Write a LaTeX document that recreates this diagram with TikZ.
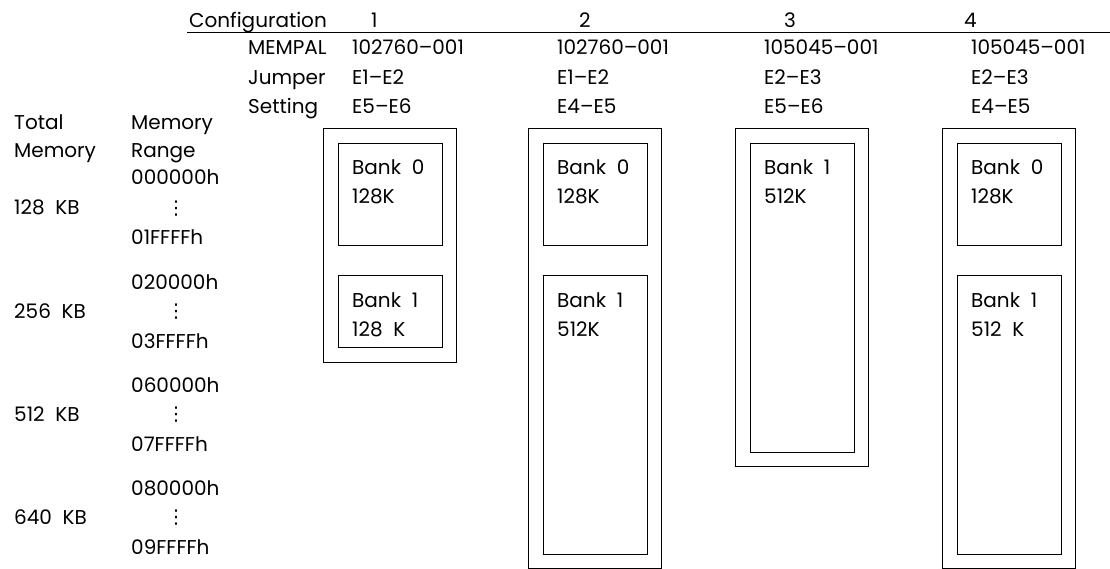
\documentclass[tikz,border=0pt]{standalone}
\usepackage{fontspec}
\setmainfont[WordSpace=2]{Poppins}
\newfontfamily\symfont{DejaVu Sans}
\usetikzlibrary{positioning}

\begin{document}
\begin{tikzpicture}[x=1pt, y=-1pt,
    txt/.style={anchor=base west, inner sep=0pt, font=\fontsize{20}{29}\selectfont},
    dots/.style={inner sep=0pt, font=\symfont\fontsize{19}{19}\selectfont},
    cfgbox/.style={draw, line width=0.9pt, inner sep=0pt, outer sep=0pt, anchor=north west, minimum width=133pt},
    bankbox/.style={draw, line width=0.9pt, inner sep=0pt, outer sep=0pt, anchor=north west, minimum width=104pt},
    banktxt/.style={align=left, inner sep=0pt, font=\fontsize{20}{29}\selectfont}
  ]
    \useasboundingbox (0,0) rectangle (1110,569);

    % header
    \node[txt] (cfg) at (189,28) {Configuration};
    \node[txt] (n1) at (371,28) {1};
    \node[txt] (n2) at (579,28) {2};
    \node[txt] (n3) at (784,28) {3};
    \node[txt] (n4) at (964,28) {4};
    \coordinate (ul) at (187,32);
    \coordinate (ur) at (1110,32);
    \draw[line width=0.9pt] (ul) -- (ur);

    \node[txt] (mempal) at (248,55) {MEMPAL};
    \node[txt] (jumper) at (248,85) {Jumper};
    \node[txt] (setting) at (248,114) {Setting};

    \node[txt] (p1) at (352,55) {102760--001};
    \node[txt] (p2) at (557,55) {102760--001};
    \node[txt] (p3) at (764,55) {105045--001};
    \node[txt] (p4) at (971,55) {105045--001};
    \node[txt] (ja1) at (352,85) {E1--E2};
    \node[txt] (ja2) at (557,85) {E1--E2};
    \node[txt] (ja3) at (764,85) {E2--E3};
    \node[txt] (ja4) at (971,85) {E2--E3};
    \node[txt] (jb1) at (352,114) {E5--E6};
    \node[txt] (jb2) at (557,114) {E4--E5};
    \node[txt] (jb3) at (764,114) {E5--E6};
    \node[txt] (jb4) at (971,114) {E4--E5};

    % left columns
    \node[txt] (total) at (14,130) {Total};
    \node[txt] (totmem) at (14,158) {Memory};
    \node[txt] (rngmem) at (131,130) {Memory};
    \node[txt] (range) at (131,158) {Range};

    \node[txt] (a0) at (131,185) {000000h};
    \node[dots] (d0) at (176,209) {⋮};
    \node[txt] (e0) at (131,245) {01FFFFh};
    \node[txt] (t0) at (14,215) {128 KB};

    \node[txt] (a1) at (131,289) {020000h};
    \node[dots] (d1) at (176,312) {⋮};
    \node[txt] (e1) at (131,348) {03FFFFh};
    \node[txt] (t1) at (14,318) {256 KB};

    \node[txt] (a2) at (131,392) {060000h};
    \node[dots] (d2) at (176,415) {⋮};
    \node[txt] (e2) at (131,451) {07FFFFh};
    \node[txt] (t2) at (14,421) {512 KB};

    \node[txt] (a3) at (131,495) {080000h};
    \node[dots] (d3) at (176,518) {⋮};
    \node[txt] (e3) at (131,554) {09FFFFh};
    \node[txt] (t3) at (14,524) {640 KB};

    % configuration 1
    \node[cfgbox, minimum height=234pt] (c1) at (323,128) {};
    \node[bankbox, minimum height=102pt] (b10) at (338,143) {};
    \node[bankbox, minimum height=72pt] (b11) at (338,275) {};
    \node[banktxt, below right=17pt and 14pt of b10.north west] {Bank 0\\128K};
    \node[banktxt, below right=17pt and 14pt of b11.north west] {Bank 1\\128 K};

    % configuration 2
    \node[cfgbox, minimum height=440pt] (c2) at (528,128) {};
    \node[bankbox, minimum height=102pt] (b20) at (543,143) {};
    \node[bankbox, minimum height=279pt] (b21) at (543,275) {};
    \node[banktxt, below right=17pt and 14pt of b20.north west] {Bank 0\\128K};
    \node[banktxt, below right=17pt and 14pt of b21.north west] {Bank 1\\512K};

    % configuration 3
    \node[cfgbox, minimum height=338pt] (c3) at (735,128) {};
    \node[bankbox, minimum height=309pt] (b31) at (750,143) {};
    \node[banktxt, below right=17pt and 14pt of b31.north west] {Bank 1\\512K};

    % configuration 4
    \node[cfgbox, minimum height=440pt] (c4) at (942,128) {};
    \node[bankbox, minimum height=102pt] (b40) at (957,143) {};
    \node[bankbox, minimum height=279pt] (b41) at (957,275) {};
    \node[banktxt, below right=17pt and 14pt of b40.north west] {Bank 0\\128K};
    \node[banktxt, below right=17pt and 14pt of b41.north west] {Bank 1\\512 K};
  \end{tikzpicture}
\end{document}
